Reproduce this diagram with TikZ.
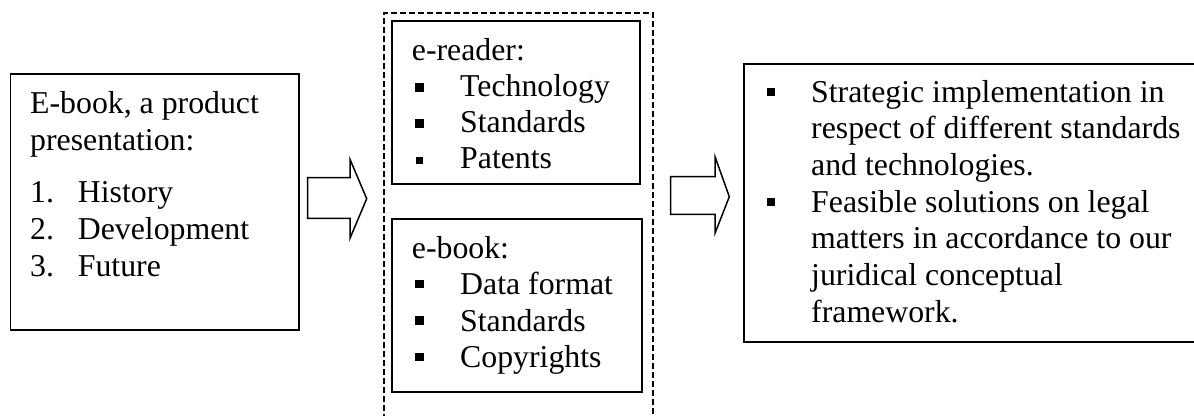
\documentclass[tikz,border=0pt]{standalone}
\usepackage{fontspec}
\setmainfont{Liberation Serif}
\begin{document}
\begin{tikzpicture}[x=1pt,y=-1pt,
  box/.style={draw, line width=1.8pt, inner sep=0pt, anchor=north west},
  grp/.style={draw, line width=1.8pt, dash pattern=on 6pt off 3pt, inner sep=0pt, anchor=north west},
  txt/.style={anchor=base west, inner sep=0pt, font=\fontsize{31.8}{36.6}\selectfont},
  blk/.style={draw, line width=1.5pt, fill=white, line join=miter},
  bul/.style={fill=black, inner sep=0pt, anchor=south west, minimum size=8.3pt}]
\clip (0,0) rectangle (1194,415);
\fill[white] (0,0) rectangle (1194,415);
% boxes
\node[box, minimum width=288.7pt, minimum height=256.6pt] (left) at (9.5,72.7) {};
\node[grp, minimum width=269pt, minimum height=420pt] (group) at (382.7,12.3) {};
\node[box, minimum width=248.6pt, minimum height=163.3pt] (reader) at (390.7,20) {};
\node[box, minimum width=250pt, minimum height=172.4pt] (ebook) at (391,218.3) {};
\node[box, minimum width=470pt, minimum height=278.6pt] (right) at (742.7,62.7) {};
% block arrows
\draw[blk] (307.7,177.7) -- (350,177.7) -- (350,159.3) -- (366.7,198.7) -- (350,238.3) -- (350,218.3) -- (307.7,218.3) -- cycle;
\draw[blk] (670.7,176.7) -- (715,176.7) -- (715,156.7) -- (729.3,196.7) -- (715,233.3) -- (715,214.3) -- (670.7,214.3) -- cycle;
% left box text
\node[txt] (l1) at (30,113.3) {E-book, a product};
\node[txt] (l2) at (30,150) {presentation:};
\node[txt] (n1) at (30,202.7) {1.};
\node[txt] (n2) at (30,239.7) {2.};
\node[txt] (n3) at (30,276.7) {3.};
\node[txt] (i1) at (77.7,202.7) {History};
\node[txt] (i2) at (77.7,239.7) {Development};
\node[txt] (i3) at (77.7,276.7) {Future};
% e-reader box
\node[txt] (r0) at (411.7,60) {e-reader:};
\node[txt] (r1) at (460,96.2) {Technology};
\node[txt] (r2) at (460,132.4) {Standards};
\node[txt] (r3) at (460,168.6) {Patents};
\node[bul] (rb1) at (415,91.7) {};
\node[bul] (rb2) at (415,127.9) {};
\node[bul, minimum size=7pt] (rb3) at (415.5,164.3) {};
% e-book box
\node[txt] (e0) at (411.7,258.3) {e-book:};
\node[txt] (e1) at (460,294.8) {Data format};
\node[txt] (e2) at (460,331.3) {Standards};
\node[txt] (e3) at (460,367.8) {Copyrights};
\node[bul] (eb1) at (415,288.3) {};
\node[bul] (eb2) at (415,324.8) {};
\node[bul] (eb3) at (415,361.3) {};
% right box
\node[txt] (s1) at (811,102) {Strategic implementation in};
\node[txt] (s2) at (811,138.7) {respect of different standards};
\node[txt] (s3) at (811,175.4) {and technologies.};
\node[txt] (s4) at (811,212.1) {Feasible solutions on legal};
\node[txt] (s5) at (811,248.8) {matters in accordance to our};
\node[txt] (s6) at (811,285.5) {juridical conceptual};
\node[txt] (s7) at (811,322.2) {framework.};
\node[bul, minimum size=7.8pt] (sb1) at (766.7,96) {};
\node[bul, minimum size=7.8pt] (sb2) at (766.7,206.1) {};
\end{tikzpicture}
\end{document}
